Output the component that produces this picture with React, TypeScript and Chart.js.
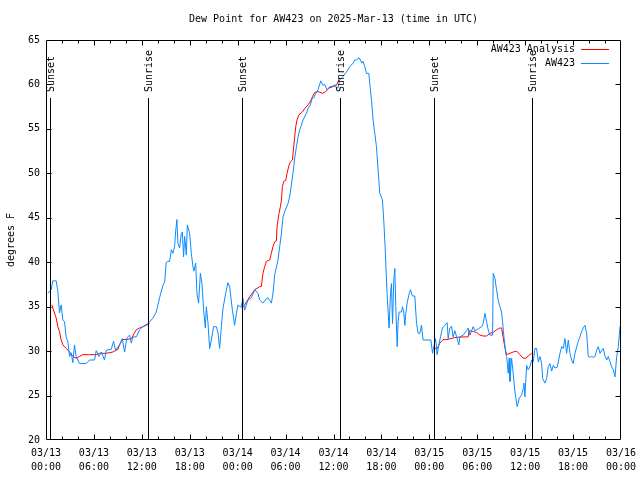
import React, { useEffect, useRef } from 'react';
import { Chart, registerables } from 'chart.js';

Chart.register(...registerables);

const FONT = "'DejaVu Sans Mono', monospace";
const TITLE = 'Dew Point for AW423 on 2025-Mar-13 (time in UTC)';
const Y_LABEL = 'degrees F';
const LEGEND_ANALYSIS = 'AW423 Analysis';
const LEGEND_OBS = 'AW423';
const RED = '#ff0000';
const BLUE = '#0a8aff';

const X_TICK_DATES = ['03/13', '03/13', '03/13', '03/13', '03/14', '03/14', '03/14', '03/14', '03/15', '03/15', '03/15', '03/15', '03/16'];
const X_TICK_TIMES = ['00:00', '06:00', '12:00', '18:00', '00:00', '06:00', '12:00', '18:00', '00:00', '06:00', '12:00', '18:00', '00:00'];

// hours since 03/13 00:00 UTC
const SUN_HOURS = [0.46, 12.76, 24.6, 36.78, 48.56, 60.81];
const SUN_LABELS = ['Sunset', 'Sunrise', 'Sunset', 'Sunrise', 'Sunset', 'Sunrise'];

const OBS_HOURS = [
  0.23, 0.65, 0.85, 1.28, 1.48, 1.69, 1.9, 2.11, 2.32, 2.53, 2.73, 2.95, 3.16, 3.36, 3.57, 3.78, 4.2, 5.04, 5.45, 6.08,
  6.29, 6.62, 6.92, 7.33, 7.54, 8.17, 8.46, 8.71, 9.21, 9.55, 9.84, 10.13, 10.47, 10.68, 10.88, 11.3, 11.72, 12.13, 12.76, 13.38,
  13.81, 14.22, 14.64, 14.85, 15.06, 15.26, 15.48, 15.69, 15.89, 16.1, 16.23, 16.39, 16.52, 16.73, 16.94, 17.07, 17.23, 17.36, 17.57, 17.7,
  17.98, 18.2, 18.4, 18.52, 18.74, 18.9, 19.11, 19.33, 19.53, 19.74, 19.95, 20.08, 20.28, 20.49, 20.7, 20.99, 21.33, 21.53, 21.74, 21.96,
  22.16, 22.5, 22.78, 23.0, 23.34, 23.62, 23.84, 24.04, 24.25, 24.46, 24.66, 24.88, 25.29, 25.72, 26.13, 26.54, 26.76, 27.17, 27.6, 27.8,
  28.22, 28.42, 28.64, 29.05, 29.26, 29.48, 29.68, 29.89, 30.3, 30.52, 30.93, 31.14, 31.36, 31.56, 31.77, 31.98, 32.18, 32.61, 32.81, 33.11,
  33.31, 33.53, 33.78, 34.06, 34.4, 34.69, 34.9, 35.19, 35.53, 35.94, 36.16, 36.37, 36.57, 36.78, 37.2, 37.62, 38.04, 38.45, 38.66, 38.88,
  39.2, 39.38, 39.54, 39.7, 39.92, 40.13, 40.42, 40.54, 40.76, 40.96, 41.17, 41.38, 41.58, 41.8, 42.13, 42.3, 42.46, 42.59, 42.71, 42.84,
  42.96, 43.14, 43.26, 43.39, 43.55, 43.68, 43.8, 43.97, 44.09, 44.22, 44.52, 44.64, 44.8, 44.93, 45.06, 45.22, 45.43, 45.64, 45.89, 46.18,
  46.4, 46.6, 46.81, 47.02, 47.22, 48.19, 48.4, 48.56, 48.78, 48.98, 49.23, 49.4, 49.65, 49.94, 50.23, 50.36, 50.57, 50.78, 50.98, 51.2,
  51.41, 51.7, 51.82, 52.24, 52.66, 52.86, 53.08, 53.49, 53.7, 54.12, 54.54, 54.74, 54.96, 55.17, 55.37, 55.58, 55.92, 56.0, 56.21, 56.42,
  56.62, 56.84, 57.05, 57.17, 57.34, 57.46, 57.59, 57.68, 57.88, 58.0, 58.09, 58.3, 58.5, 58.72, 58.84, 59.01, 59.26, 59.56, 59.76, 59.84,
  59.97, 60.18, 60.38, 60.6, 60.81, 61.01, 61.22, 61.43, 61.64, 61.85, 62.06, 62.19, 62.48, 62.69, 62.89, 63.1, 63.32, 63.52, 63.73, 64.02,
  64.36, 64.57, 64.77, 64.98, 65.19, 65.4, 65.61, 65.82, 66.02, 66.24, 66.45, 66.65, 66.86, 67.07, 67.28, 67.49, 67.7, 67.9, 68.11, 68.33,
  68.53, 68.74, 68.95, 69.16, 69.37, 69.58, 69.78, 70.0, 70.21, 70.41, 70.62, 70.83, 71.04, 71.25, 71.46, 71.66, 71.88, 72.0,
];
const OBS_VALUES = [
  36.5, 36.9, 37.9, 37.9, 36.7, 34.3, 35.2, 33.5, 33.3, 31.5, 31.1, 29.4, 29.8, 28.7, 30.7, 29.4, 28.6, 28.6, 29.0, 29.0,
  30.05, 29.4, 29.9, 29.0, 30.1, 30.2, 31.1, 30.1, 30.7, 31.4, 29.9, 31.5, 31.8, 30.9, 31.6, 31.6, 32.4, 32.75, 33.1, 33.7,
  34.4, 36.0, 37.4, 37.75, 40.0, 40.1, 40.1, 41.4, 41.0, 41.75, 43.4, 44.8, 42.1, 41.6, 43.25, 43.4, 40.6, 42.9, 40.8, 44.2,
  43.25, 41.0, 39.5, 39.0, 39.9, 36.5, 35.4, 38.75, 37.6, 34.6, 32.6, 35.0, 33.2, 30.3, 31.25, 32.75, 32.75, 32.1, 30.3, 32.75,
  34.8, 36.5, 37.7, 37.2, 34.6, 32.9, 34.25, 35.2, 35.0, 35.0, 35.9, 34.6, 35.75, 36.0, 36.9, 36.5, 35.75, 35.4, 35.9, 36.0,
  35.4, 36.5, 38.6, 40.25, 41.75, 43.25, 45.1, 45.7, 46.6, 47.4, 50.0, 51.7, 53.0, 54.1, 54.9, 55.4, 56.0, 56.75, 57.3, 57.7,
  58.4, 58.5, 59.0, 59.4, 60.4, 59.9, 60.0, 59.4, 59.75, 59.8, 60.0, 59.6, 59.6, 60.5, 60.9, 61.4, 62.0, 62.4, 62.75, 62.75,
  63.0, 62.75, 62.4, 62.6, 62.0, 61.25, 61.25, 60.1, 58.25, 56.0, 54.5, 53.0, 50.4, 47.75, 47.0, 44.6, 41.75, 38.9, 36.5, 34.4,
  32.6, 36.5, 37.6, 33.1, 38.0, 39.3, 35.0, 30.5, 33.3, 34.4, 34.4, 35.0, 34.4, 32.9, 34.25, 35.4, 36.3, 36.9, 36.2, 36.2,
  33.1, 32.0, 32.0, 32.9, 31.25, 31.25, 29.75, 30.5, 31.4, 29.6, 30.9, 31.6, 32.6, 32.9, 33.2, 31.4, 32.6, 32.8, 31.6, 32.3,
  31.6, 30.7, 31.6, 31.8, 32.3, 32.6, 31.8, 32.75, 32.3, 32.5, 32.75, 33.1, 34.25, 33.3, 32.4, 31.8, 31.8, 38.75, 38.2, 36.9,
  35.75, 35.0, 34.4, 33.3, 31.6, 30.7, 29.6, 29.4, 27.5, 29.2, 26.6, 29.2, 27.5, 25.4, 24.7, 23.75, 24.7, 25.1, 25.8, 26.4,
  24.85, 28.4, 27.9, 28.25, 29.0, 28.8, 30.3, 30.3, 28.8, 29.4, 28.6, 26.9, 26.4, 26.9, 28.25, 28.6, 27.75, 28.4, 28.1, 28.2,
  29.75, 30.5, 30.3, 31.4, 29.75, 31.25, 29.75, 29.0, 28.6, 29.75, 30.5, 31.1, 31.6, 32.2, 32.6, 32.9, 32.0, 29.4, 29.3, 29.4,
  29.3, 29.4, 30.1, 30.5, 29.75, 30.1, 30.3, 29.4, 29.0, 29.4, 28.8, 28.25, 27.9, 27.1, 29.4, 30.5, 32.75, 33.0,
];

// null values mark gaps in the analysis series
const ANA_HOURS = [
  0.73, 1.28, 1.48, 1.69, 1.9, 2.11, 2.53, 2.95, 3.36, 3.78, 4.2, 4.61, 5.45, 6.29, 6.71, 7.54, 8.37, 9.0, 9.21, 9.55,
  10.05, 10.68, 11.3, 11.72, 12.13, 12.56, 12.97, 18.0,
  24.46, 24.88, 25.5, 26.13, 26.76, 26.97, 27.17, 27.38, 27.6, 28.01, 28.22, 28.42, 28.64, 28.85, 28.93, 29.18, 29.35, 29.48, 29.6, 29.77,
  30.02, 30.18, 30.43, 30.61, 30.86, 31.02, 31.14, 31.27, 31.43, 31.68, 32.11, 32.4, 32.81, 33.11, 33.36, 33.65, 34.06, 34.62, 35.03, 35.44,
  35.94, 36.37, 36.7, 42.0,
  48.56, 48.98, 49.32, 49.73, 50.36, 50.57, 51.41, 52.24, 52.86, 52.99, 53.49, 53.92, 54.33, 54.74, 55.17, 55.58, 56.0, 56.42, 56.84, 57.05,
  57.25, 57.46, 57.68, 58.09, 58.5, 58.93, 59.34, 59.76, 60.1, 60.38, 60.81, 61.01,
];
const ANA_VALUES = [
  35.2, 33.7, 32.75, 32.2, 31.25, 30.7, 30.3, 29.9, 29.4, 29.2, 29.4, 29.6, 29.6, 29.6, 29.75, 29.75, 29.9, 30.2, 30.7, 31.3,
  31.3, 31.4, 32.4, 32.6, 32.75, 32.9, 33.1, null,
  34.8, 35.2, 36.1, 36.9, 37.25, 37.3, 38.75, 39.5, 40.1, 40.25, 41.0, 41.75, 42.3, 42.4, 44.0, 45.5, 46.25, 47.0, 48.5, 49.1,
  49.2, 50.0, 50.9, 51.3, 51.5, 53.0, 54.1, 55.25, 56.0, 56.6, 56.9, 57.3, 57.7, 58.1, 58.6, 59.1, 59.2, 59.0, 59.2, 59.6,
  59.75, 59.9, 60.6, null,
  30.3, 30.3, 30.9, 31.3, 31.3, 31.4, 31.55, 31.6, 31.6, 32.3, 32.2, 32.1, 31.8, 31.7, 31.7, 32.0, 32.1, 32.4, 32.6, 32.6,
  31.5, 30.4, 29.6, 29.75, 29.9, 30.0, 29.6, 29.2, 29.2, 29.45, 29.75, 29.75,
];

const X_MIN = 0;
const X_MAX = 72;
const Y_MIN = 20;
const Y_MAX = 65;

const decorPlugin = {
  id: 'gnuplotDecor',
  afterDatasetsDraw(chart: any) {
    const { ctx, chartArea: a, scales } = chart;
    const xs = scales.x;
    const ys = scales.y;
    ctx.save();
    ctx.strokeStyle = '#000';
    ctx.fillStyle = '#000';
    ctx.lineWidth = 1;
    ctx.font = `10px ${FONT}`;

    // sunrise / sunset markers
    SUN_HOURS.forEach((h, i) => {
      const px = Math.round(xs.getPixelForValue(h)) + 0.5;
      ctx.beginPath();
      ctx.moveTo(px, a.bottom);
      ctx.lineTo(px, a.top + 58);
      ctx.stroke();
      ctx.save();
      ctx.translate(px + 0.5, a.top + 52);
      ctx.rotate(-Math.PI / 2);
      ctx.textAlign = 'left';
      ctx.textBaseline = 'middle';
      ctx.fillText(SUN_LABELS[i], 0, 0);
      ctx.restore();
    });

    // frame
    const L = Math.round(a.left) + 0.5;
    const R = Math.round(a.right) - 0.5;
    const T = Math.round(a.top) + 0.5;
    const B = Math.round(a.bottom) - 0.5;
    ctx.beginPath();
    ctx.rect(L, T, R - L, B - T);
    ctx.stroke();

    // inward ticks, x: major every 6 h, minor every 2 h
    ctx.beginPath();
    for (let h = X_MIN + 2; h < X_MAX; h += 2) {
      const px = Math.round(xs.getPixelForValue(h)) + 0.5;
      const len = h % 6 === 0 ? 5 : 3;
      ctx.moveTo(px, B);
      ctx.lineTo(px, B - len);
      ctx.moveTo(px, T);
      ctx.lineTo(px, T + len);
    }
    for (let v = Y_MIN + 5; v < Y_MAX; v += 5) {
      const py = Math.round(ys.getPixelForValue(v)) + 0.5;
      ctx.moveTo(L, py);
      ctx.lineTo(L + 5, py);
      ctx.moveTo(R, py);
      ctx.lineTo(R - 5, py);
    }
    ctx.stroke();

    // title
    ctx.textAlign = 'center';
    ctx.textBaseline = 'middle';
    ctx.fillText(TITLE, (a.left + a.right) / 2, 19);

    // legend
    const textRight = a.right - 46;
    const lineL = a.right - 40;
    const lineR = a.right - 12;
    ctx.textAlign = 'right';
    ctx.fillText(LEGEND_ANALYSIS, textRight, a.top + 9);
    ctx.fillText(LEGEND_OBS, textRight, a.top + 23);
    ctx.strokeStyle = RED;
    ctx.beginPath();
    ctx.moveTo(lineL, a.top + 9.5);
    ctx.lineTo(lineR, a.top + 9.5);
    ctx.stroke();
    ctx.strokeStyle = BLUE;
    ctx.beginPath();
    ctx.moveTo(lineL, a.top + 23.5);
    ctx.lineTo(lineR, a.top + 23.5);
    ctx.stroke();
    ctx.restore();
  },
};

export default function App() {
  const canvasRef = useRef<HTMLCanvasElement | null>(null);

  useEffect(() => {
    const canvas = canvasRef.current;
    if (!canvas) return;
    const obs = OBS_HOURS.map((h, i) => ({ x: h, y: OBS_VALUES[i] }));
    const ana = ANA_HOURS.map((h, i) => ({ x: h, y: ANA_VALUES[i] }));
    const chart = new Chart(canvas, {
      type: 'line',
      data: {
        datasets: [
          {
            label: LEGEND_OBS,
            data: obs as any,
            borderColor: BLUE,
            borderWidth: 1,
            pointRadius: 0,
            tension: 0,
            fill: false,
            order: 0,
          },
          {
            label: LEGEND_ANALYSIS,
            data: ana as any,
            borderColor: RED,
            borderWidth: 1,
            pointRadius: 0,
            tension: 0,
            fill: false,
            spanGaps: false,
            order: 1,
          },
        ],
      },
      options: {
        responsive: false,
        devicePixelRatio: 1,
        animation: false,
        events: [],
        layout: { padding: { top: 40, right: 19, left: 0, bottom: 0 } },
        plugins: {
          legend: { display: false },
          title: { display: false },
          tooltip: { enabled: false },
        },
        scales: {
          x: {
            type: 'linear',
            min: X_MIN,
            max: X_MAX,
            grid: { display: false, drawTicks: false },
            border: { display: false },
            ticks: {
              stepSize: 6,
              autoSkip: false,
              maxRotation: 0,
              minRotation: 0,
              padding: 6,
              color: '#000',
              font: { family: FONT, size: 10, lineHeight: 1.4 },
              callback: (v: any) => {
                const i = Math.round(Number(v) / 6);
                return [X_TICK_DATES[i], X_TICK_TIMES[i]];
              },
            },
            afterFit: (scale: any) => {
              scale.height = 40;
              scale.paddingLeft = 0;
              scale.paddingRight = 0;
            },
          },
          y: {
            type: 'linear',
            min: Y_MIN,
            max: Y_MAX,
            grid: { display: false, drawTicks: false },
            border: { display: false },
            ticks: {
              stepSize: 5,
              padding: 6,
              color: '#000',
              font: { family: FONT, size: 10 },
            },
            title: {
              display: true,
              text: Y_LABEL,
              color: '#000',
              font: { family: FONT, size: 10 },
              padding: { top: 5, bottom: 0 },
            },
            afterFit: (scale: any) => {
              scale.width = 46;
              scale.paddingTop = 0;
              scale.paddingBottom = 0;
            },
          },
        },
      },
      plugins: [decorPlugin],
    });
    return () => chart.destroy();
  }, []);

  return (
    <div style={{ position: 'absolute', left: 0, top: 0, width: 640, height: 480, background: '#fff' }}>
      <canvas ref={canvasRef} width={640} height={480} style={{ width: 640, height: 480, display: 'block' }} />
    </div>
  );
}
